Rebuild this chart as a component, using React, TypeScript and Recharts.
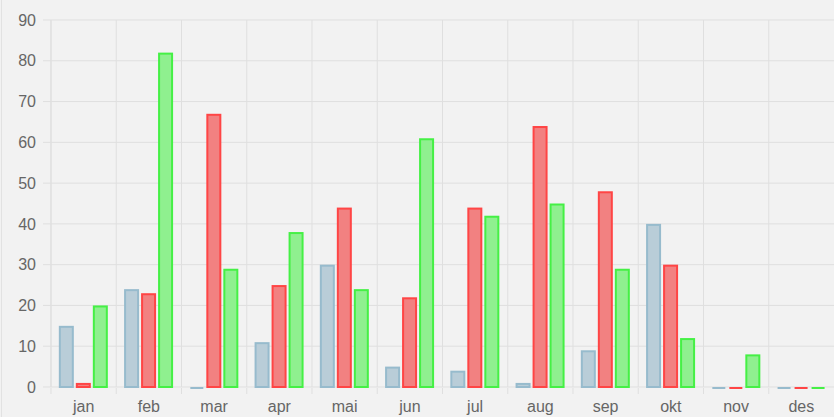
import React from "react";
import { BarChart, Bar, XAxis, YAxis, CartesianGrid } from "recharts";

const months = ["jan", "feb", "mar", "apr", "mai", "jun", "jul", "aug", "sep", "okt", "nov", "des"];
const seriesA = [15, 24, 0, 11, 30, 5, 4, 1, 9, 40, 0, 0];
const seriesB = [1, 23, 67, 25, 44, 22, 44, 64, 48, 30, 0, 0];
const seriesC = [20, 82, 29, 38, 24, 61, 42, 45, 29, 12, 8, 0];
const yTicks = [0, 10, 20, 30, 40, 50, 60, 70, 80, 90];

const data = months.map((m, i) => ({ name: m, a: seriesA[i], b: seriesB[i], c: seriesC[i] }));

const W = 834;
const H = 417;
const LEFT = 51;
const BAND = (W - LEFT) / months.length;
const GRID = "#dfdfdf";
const FONT = "Liberation Sans, Arial, sans-serif";

const BarShape = (props: any) => {
  const { x, y, width, height, fill, stroke } = props;
  const h = Math.max(height, 0);
  if (h < 1) {
    return <line x1={x + 1} x2={x + width - 1} y1={y + 1} y2={y + 1} stroke={stroke} strokeWidth={2} />;
  }
  return (
    <rect x={x + 1} y={y + 1} width={width - 2} height={h - 1} fill={fill} stroke={stroke} strokeWidth={2} />
  );
};

const XTick = (props: any) => {
  const { x, y, payload } = props;
  const bx = x - BAND / 2;
  return (
    <g>
      <line x1={bx} x2={bx} y1={y - 7} y2={y - 1} stroke={GRID} />
      <text x={x} y={y + 17} textAnchor="middle" fill="#666" fontSize={16} fontFamily={FONT}>
        {payload.value}
      </text>
    </g>
  );
};

export default function App() {
  return (
    <div style={{ position: "absolute", left: 0, top: 0, width: W, height: H, background: "#f2f2f2" }}>
      <div style={{ position: "absolute", left: 1, top: 0, width: 1, height: H, background: "#e2e2e2" }} />
      <BarChart
        width={W}
        height={H}
        data={data}
        margin={{ top: 20, right: 0, bottom: 0, left: 0 }}
        barGap={2}
        barCategoryGap="12%"
      >
        <CartesianGrid
          stroke={GRID}
          verticalCoordinatesGenerator={({ offset }: any) =>
            months.map((_, i) => offset.left + (i * offset.width) / months.length)
          }
        />
        <XAxis
          dataKey="name"
          height={30}
          axisLine={false}
          tickLine={false}
          tick={<XTick />}
          interval={0}
        />
        <YAxis
          width={LEFT}
          domain={[0, 90]}
          ticks={yTicks}
          interval={0}
          axisLine={{ stroke: GRID }}
          tickLine={{ stroke: GRID }}
          tickSize={8}
          tickMargin={7}
          tick={{ fill: "#666", fontSize: 16, fontFamily: FONT }}
        />
        <Bar dataKey="a" fill="#b9cdd8" stroke="#97bbcd" isAnimationActive={false} shape={<BarShape />} />
        <Bar dataKey="b" fill="#f28181" stroke="#ff4545" isAnimationActive={false} shape={<BarShape />} />
        <Bar dataKey="c" fill="#8ff08f" stroke="#45f045" isAnimationActive={false} shape={<BarShape />} />
      </BarChart>
    </div>
  );
}
